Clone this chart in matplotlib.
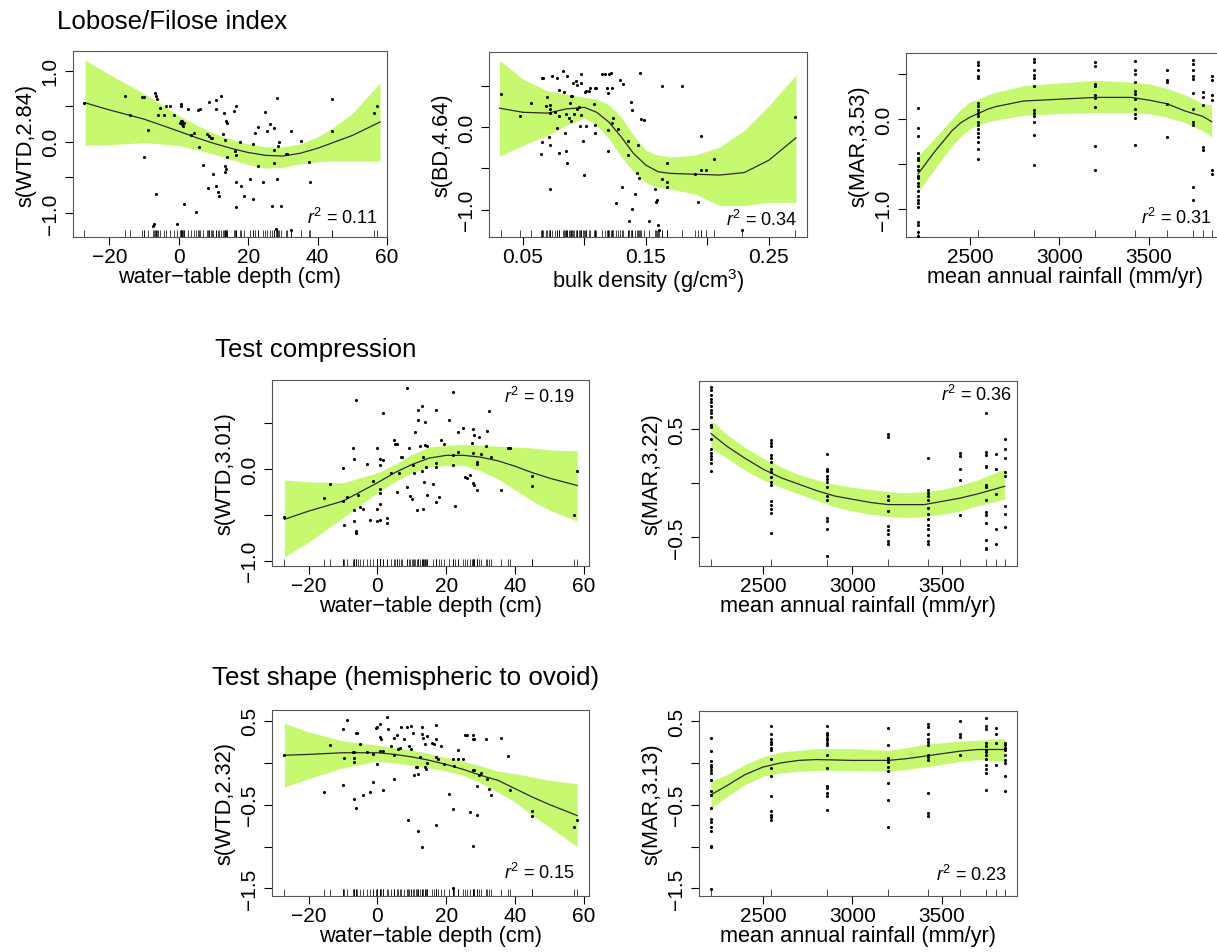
import numpy as np
import matplotlib
matplotlib.use("Agg")
import matplotlib.pyplot as plt

plt.rcParams['font.family'] = ['Liberation Sans', 'DejaVu Sans']
plt.rcParams['mathtext.fontset'] = 'custom'
plt.rcParams['mathtext.rm'] = 'Liberation Sans'
plt.rcParams['mathtext.it'] = 'Liberation Sans:italic'

BAND = '#c6f870'
MAR_LEVELS = [2210, 2545, 2860, 3200, 3420, 3600, 3745, 3800, 3850]

# ---------------- Lobose/Filose index ----------------
lf_wtd_x = [-27.3, -15.5, -14.1, -10.6, -9.9, -10.0, -8.9, -6.9, -6.7, -6.4,
            -6.5, -6.0, -5.3, -7.5, -7.1, -4.3, -3.6, -2.4, -1.4, 0.3,
            0.5, 0.8, 1.0, 1.3, 1.6, 0.5, 0.5, 1.4, -0.5, 2.7,
            3.4, 4.5, 5.0, 5.4, 6.1, 5.9, 7.0, 8.6, 8.8, 8.2,
            8.4, 9.2, 9.6, 9.9, 10.6, 10.7, 10.8, 11.3, 11.5, 12.3,
            12.7, 13.4, 13.4, 13.7, 13.0, 13.6, 14.0, 13.9, 13.4, 16.1,
            16.4, 15.8, 16.4, 16.5, 16.5, 17.5, 17.9, 18.9, 20.4, 21.4,
            21.4, 21.9, 22.8, 22.8, 24.3, 24.8, 25.3, 26.4, 27.3, 26.9,
            27.3, 27.3, 28.3, 28.3, 28.6, 28.8, 29.4, 30.9, 31.3, 32.3,
            35.2, 37.4, 37.9, 44.1, 44.1, 56.3, 57.1, 27.9, 32.4]
lf_wtd_y = [0.55, 0.64, 0.38, 0.63, 0.63, -0.22, 0.17, 0.69, 0.65, 0.61,
            -0.74, 0.38, 0.48, -1.18, -1.15, 0.38, 0.51, 0.50, 0.38, 0.27,
            0.29, 0.25, 0.30, 0.23, 0.27, 0.54, 0.51, -0.87, -1.15, 0.47,
            0.09, 0.13, -0.99, 0.45, 0.46, -0.07, -0.32, 0.56, 0.08, 0.11,
            -0.65, 0.06, 0.06, -0.45, 0.47, 0.59, -0.62, -0.71, -0.76, 0.64,
            0.11, -0.42, -0.34, -0.38, 0.41, 0.30, 0.26, -0.22, 0.03, -0.13,
            -0.18, 0.44, 0.50, -0.57, -0.92, 0.0, -0.62, -0.76, -0.53, -0.03,
            -0.81, 0.12, 0.21, -0.34, -0.57, 0.42, 0.16, 0.25, 0.19, -0.90,
            -0.11, -0.30, 0.62, -0.53, -0.06, 0.0, -0.90, -0.17, -0.17, 0.16,
            0.01, -0.29, -0.57, 0.61, 0.15, 0.40, 0.51, -1.23, -1.24]
wtd_grid = [-27, -20, -10, 0, 5, 10, 15, 20, 25, 30, 35, 40, 45, 50, 58]
lf_wtd_fit = [0.55, 0.45, 0.32, 0.15, 0.06, -0.02, -0.09, -0.15, -0.19, -0.20, -0.16, -0.09, 0.0, 0.09, 0.28]
lf_wtd_hi = [1.15, 0.95, 0.68, 0.37, 0.24, 0.12, 0.04, -0.03, -0.07, -0.07, -0.03, 0.07, 0.22, 0.40, 0.83]
lf_wtd_lo = [-0.05, -0.04, -0.01, -0.05, -0.11, -0.17, -0.25, -0.32, -0.37, -0.36, -0.31, -0.28, -0.27, -0.27, -0.27]

lf_bd_x = [0.0318, 0.0478, 0.0568, 0.0649, 0.0657, 0.0654, 0.0663, 0.0695, 0.069, 0.0717,
           0.0709, 0.0722, 0.072, 0.0722, 0.0717, 0.0736, 0.0757, 0.0776, 0.0776, 0.079,
           0.079, 0.079, 0.0825, 0.083, 0.0839, 0.0847, 0.0852, 0.0858, 0.086, 0.0874,
           0.0885, 0.0893, 0.0898, 0.0893, 0.0906, 0.0928, 0.0942, 0.0915, 0.0939, 0.0955,
           0.0961, 0.0969, 0.0969, 0.0974, 0.0988, 0.0996, 0.1001, 0.1015, 0.1037, 0.1047,
           0.1015, 0.1077, 0.1083, 0.1096, 0.1088, 0.1088, 0.1145, 0.117, 0.1183, 0.1191,
           0.1188, 0.1191, 0.1196, 0.1213, 0.1226, 0.1234, 0.1226, 0.1259, 0.1272, 0.1291,
           0.1313, 0.1308, 0.1354, 0.1354, 0.1362, 0.1381, 0.1386, 0.1386, 0.1408, 0.1430,
           0.1443, 0.1435, 0.1454, 0.1462, 0.1481, 0.1524, 0.157, 0.1584, 0.1592, 0.1598,
           0.1606, 0.1633, 0.1633, 0.1673, 0.1673, 0.1673, 0.1793, 0.1896, 0.1923, 0.1944,
           0.1944, 0.199, 0.205, 0.228, 0.2709]
lf_bd_y = [0.40, 0.13, 0.29, -0.33, -0.18, 0.60, 0.59, 0.37, 0.26, 0.27,
           -0.12, -0.21, -0.75, 0.17, 0.22, 0.62, 0.18, 0.60, -0.01, 0.45,
           0.13, -0.31, 0.68, 0.42, -0.07, 0.16, -0.29, 0.62, -0.44, 0.11,
           0.29, 0.38, 0.38, 0.08, 0.53, 0.56, 0.51, 0.16, 0.22, 0.25,
           0.01, 0.15, 0.64, 0.54, -0.17, -0.58, 0.43, 0.44, 0.44, 0.47,
           0.01, 0.28, 0.48, 0.48, 0.03, -0.07, 0.64, 0.64, 0.47, 0.41,
           -0.03, -0.29, 0.64, 0.66, 0.47, 0.11, 0.05, -0.92, -0.02, 0.57,
           0.52, -0.73, -0.17, -0.34, -1.14, 0.31, 0.21, -0.99, -0.81, -0.56,
           -0.61, -0.21, 0.65, 0.10, 0.09, -1.14, -0.75, -0.91, -0.88, -1.18,
           -1.25, 0.50, -0.63, -0.44, -0.67, -0.72, 0.50, -0.57, -0.91, -0.11,
           -0.52, -0.52, -0.38, -1.25, 0.12]
bd_grid = [0.031, 0.05, 0.07, 0.085, 0.1, 0.11, 0.12, 0.13, 0.14, 0.15, 0.16, 0.17, 0.19, 0.21, 0.23, 0.25, 0.272]
lf_bd_fit = [0.23, 0.18, 0.17, 0.22, 0.24, 0.18, 0.06, -0.12, -0.32, -0.46, -0.54, -0.56, -0.57, -0.58, -0.55, -0.40, -0.13]
lf_bd_hi = [0.81, 0.58, 0.44, 0.40, 0.36, 0.34, 0.27, 0.12, -0.10, -0.28, -0.34, -0.36, -0.34, -0.24, -0.04, 0.26, 0.63]
lf_bd_lo = [-0.35, -0.22, -0.10, 0.02, 0.11, 0.02, -0.14, -0.36, -0.54, -0.67, -0.73, -0.75, -0.81, -0.95, -0.95, -0.91, -0.91]

lf_mar_y = [
    [0.12, -0.10, -0.19, -0.38, -0.43, -0.46, -0.52, -0.57, -0.63, -0.66, -0.71, -0.74, -0.80,
     -0.85, -0.90, -0.93, -0.98, -1.14, -1.18, -1.26, -1.30],
    [0.63, 0.60, 0.54, 0.48, 0.45, 0.18, 0.14, 0.10, 0.07, 0.03, -0.03, -0.07, -0.11, -0.16,
     -0.20, -0.26, -0.33, -0.44],
    [0.67, 0.63, 0.54, 0.49, 0.45, 0.37, 0.10, 0.07, 0.03, -0.03, -0.18, -0.51],
    [0.63, 0.59, 0.39, 0.37, 0.27, 0.23, 0.13, -0.30, -0.57],
    [0.64, 0.54, 0.50, 0.41, 0.31, 0.28, 0.22, 0.11, 0.06, 0.01, -0.29],
    [0.54, 0.43, 0.41, 0.17, -0.20],
    [0.65, 0.61, 0.54, 0.48, 0.44, 0.29, 0.11, -0.03, -0.07, -0.75, -0.90],
    [0.30, 0.25, 0.16, -0.31, -0.34],
    [0.48, 0.43, 0.27, 0.21, -0.57, -0.61],
]
mar_grid = [2210, 2300, 2350, 2400, 2450, 2500, 2545, 2600, 2650, 2800, 3000, 3200, 3400, 3500, 3600, 3700, 3800, 3850]
lf_mar_fit = [-0.61, -0.37, -0.25, -0.13, -0.04, 0.02, 0.06, 0.11, 0.14, 0.20, 0.22, 0.24, 0.24, 0.21, 0.17, 0.09, 0.03, -0.03]
lf_mar_hi = [-0.41, -0.22, -0.11, 0.0, 0.11, 0.19, 0.22, 0.27, 0.30, 0.37, 0.40, 0.43, 0.41, 0.39, 0.34, 0.27, 0.17, 0.16]
lf_mar_lo = [-0.81, -0.56, -0.43, -0.30, -0.19, -0.11, -0.07, -0.03, -0.01, 0.04, 0.06, 0.07, 0.07, 0.06, 0.02, -0.04, -0.13, -0.20]

# ---------------- Test compression ----------------
tc_wtd_x = [-27.2, -15.4, -13.7, -9.9, -10.1, -8.9, -9.8, -7.1, -6.8, -6.8,
            -6.8, -6.3, -6.3, -6.3, -5.7, -5.0, -4.3, -3.1, -2.1, -1.2,
            -0.2, -0.2, -0.2, 0.8, 1.7, 0.8, 0.8, 0.8, 0.8, 0.8,
            1.7, 2.7, 2.9, 3.9, 4.8, 5.1, 5.8, 5.8, 6.4, 6.8,
            7.2, 8.7, 8.5, 9.3, 9.5, 10.0, 10.2, 10.7, 10.9, 11.4,
            11.9, 11.9, 12.4, 12.9, 13.0, 13.1, 13.3, 13.5, 13.8, 13.8,
            14.5, 14.0, 14.3, 16.2, 16.9, 16.9, 16.9, 16.9, 18.0, 18.4,
            19.3, 20.9, 21.8, 22.0, 22.0, 22.5, 23.3, 23.5, 24.9, 25.4,
            25.9, 26.9, 27.3, 27.8, 28.0, 27.8, 27.8, 28.0, 29.0, 29.0,
            29.0, 29.5, 30.0, 31.5, 31.9, 32.5, 32.9, 35.8, 38.0, 38.5,
            44.9, 44.9, 57.0, 58.0]
tc_wtd_y = [-0.52, -0.32, -0.16, 0.01, -0.35, -0.31, -0.61, 0.23, 0.11, -0.45,
            -0.57, 0.76, -0.68, -0.70, -0.28, -0.42, -0.44, 0.06, -0.56, -0.13,
            0.23, -0.44, -0.57, 0.11, 0.10, 0.04, -0.22, -0.26, -0.38, -0.56,
            0.61, -0.53, -0.59, -0.04, 0.32, 0.27, 0.27, -0.25, -0.04, 0.13,
            0.13, 0.89, -0.20, 0.23, -0.29, -0.33, 0.04, -0.04, 0.41, -0.45,
            0.54, 0.65, 0.25, 0.69, -0.02, -0.44, 0.13, -0.14, 0.51, 0.26,
            0.25, 0.02, -0.28, -0.16, 0.65, 0.07, 0.02, -0.36, -0.30, 0.32,
            0.27, 0.54, 0.84, 0.15, 0.04, -0.40, 0.40, 0.19, 0.45, -0.09,
            -0.10, -0.06, 0.29, 0.44, 0.37, 0.18, -0.15, -0.17, 0.08, 0.05,
            -0.23, 0.35, 0.16, 0.25, 0.42, 0.64, 0.13, -0.23, 0.23, 0.23,
            -0.08, -0.18, -0.50, -0.02]
tc_wtd_fit = [-0.55, -0.46, -0.35, -0.15, -0.04, 0.05, 0.12, 0.15, 0.15, 0.13, 0.09, 0.03, -0.04, -0.10, -0.18]
tc_wtd_hi = [-0.12, -0.14, -0.15, -0.04, 0.05, 0.16, 0.24, 0.26, 0.27, 0.26, 0.25, 0.24, 0.23, 0.21, 0.20]
tc_wtd_lo = [-0.96, -0.80, -0.53, -0.26, -0.14, -0.04, 0.02, 0.04, 0.04, -0.02, -0.11, -0.23, -0.35, -0.45, -0.57]

tc_mar_y = [
    [0.89, 0.86, 0.82, 0.78, 0.75, 0.72, 0.68, 0.65, 0.61, 0.54, 0.52, 0.41, 0.32, 0.28, 0.25,
     0.22, 0.19, 0.11],
    [0.40, 0.37, 0.34, 0.26, 0.23, 0.20, 0.13, 0.10, 0.06, 0.01, -0.02, -0.17, -0.20, -0.24,
     -0.28, -0.46],
    [0.27, 0.13, 0.11, 0.07, 0.04, 0.01, -0.04, -0.12, -0.16, -0.32, -0.35, -0.43, -0.68],
    [0.46, 0.43, -0.12, -0.16, -0.26, -0.40, -0.44, -0.47, -0.54, -0.57],
    [0.23, -0.06, -0.09, -0.12, -0.16, -0.23, -0.29, -0.33, -0.39, -0.43, -0.48, -0.54, -0.57],
    [0.28, 0.25, 0.13, 0.03, -0.30],
    [0.65, 0.29, 0.26, 0.16, 0.15, -0.02, -0.04, -0.16, -0.27, -0.30, -0.37, -0.53, -0.60, -0.61],
    [0.27, 0.13, -0.10, -0.43, -0.57],
    [0.41, 0.32, 0.23, 0.10, 0.07, -0.21, -0.29, -0.41],
]
mar_grid2 = [2210, 2300, 2400, 2500, 2600, 2700, 2800, 2900, 3000, 3100, 3200, 3300, 3400, 3500, 3600, 3700, 3850]
tc_mar_fit = [0.46, 0.34, 0.23, 0.13, 0.05, -0.01, -0.07, -0.12, -0.15, -0.18, -0.20, -0.20, -0.20, -0.17, -0.14, -0.10, -0.03]
tc_mar_hi = [0.58, 0.45, 0.33, 0.23, 0.15, 0.08, 0.03, -0.01, -0.04, -0.06, -0.08, -0.09, -0.08, -0.06, -0.02, 0.03, 0.13]
tc_mar_lo = [0.33, 0.23, 0.12, 0.03, -0.04, -0.10, -0.16, -0.22, -0.26, -0.29, -0.31, -0.32, -0.31, -0.29, -0.26, -0.21, -0.15]

# ---------------- Test shape ----------------
ts_wtd_x = [-27.2, -13.7, -15.4, -10.1, -9.9, -9.7, -8.7, -7.2, -6.7, -6.8,
            -6.8, -6.8, -6.3, -5.8, -6.3, -5.2, -4.3, -3.1, -2.1, -1.4,
            -1.2, -0.4, 0.0, -0.2, 0.8, 0.8, 1.0, 0.8, 1.5, 1.7,
            2.7, 3.0, 3.9, 4.8, 4.8, 4.8, 5.8, 6.1, 6.6, 6.8,
            7.8, 8.5, 9.8, 8.8, 9.3, 9.7, 10.2, 10.6, 11.2, 11.6,
            11.7, 11.9, 12.4, 12.9, 13.0, 12.9, 13.3, 13.8, 13.8, 14.1,
            14.3, 14.5, 15.9, 16.4, 16.9, 16.9, 16.9, 16.9, 17.7, 18.4,
            19.4, 20.9, 21.8, 22.0, 22.3, 23.3, 23.5, 24.9, 25.4, 26.1,
            26.9, 27.6, 28.0, 27.8, 27.8, 27.8, 28.1, 28.8, 29.0, 29.5,
            30.0, 31.5, 31.9, 32.5, 32.9, 35.8, 38.0, 38.5, 44.9, 44.9,
            57.0, 58.0, 22.0]
ts_wtd_y = [0.09, 0.21, -0.35, -0.27, 0.40, 0.06, 0.51, 0.13, 0.13, 0.06,
            0.01, -0.43, 0.35, 0.35, -0.54, 0.23, -0.38, 0.13, -0.35, -0.23,
            0.10, 0.41, 0.43, -0.02, 0.46, 0.31, 0.28, 0.14, 0.14, -0.33,
            0.55, 0.40, 0.20, 0.30, 0.09, -0.19, 0.33, 0.17, 0.18, 0.43,
            0.28, 0.43, 0.44, -0.68, 0.20, 0.17, 0.35, -0.15, -0.05, -0.05,
            -0.13, -0.81, 0.07, 0.43, 0.34, -1.00, 0.29, 0.23, -0.05, -0.08,
            0.32, 0.0, 0.24, 0.23, 0.45, 0.28, 0.07, -0.74, 0.04, 0.20,
            -0.01, -0.37, 0.04, -0.55, -0.04, 0.15, 0.04, 0.04, 0.33, 0.33,
            -0.59, -0.09, -0.09, 0.33, 0.28, -0.99, 0.28, -0.28, -0.62, -0.15,
            -0.12, 0.28, -0.19, -0.31, -0.39, 0.29, 0.08, -0.33, -0.58, -0.63,
            -0.77, -0.68, -1.50]
ts_wtd_fit = [0.09, 0.10, 0.12, 0.12, 0.10, 0.07, 0.03, -0.02, -0.08, -0.15, -0.21, -0.31, -0.41, -0.50, -0.63]
ts_wtd_hi = [0.47, 0.37, 0.26, 0.21, 0.18, 0.15, 0.11, 0.06, 0.02, -0.04, -0.10, -0.13, -0.17, -0.21, -0.25]
ts_wtd_lo = [-0.29, -0.19, -0.06, 0.02, 0.0, -0.03, -0.06, -0.10, -0.15, -0.24, -0.35, -0.47, -0.63, -0.77, -1.00]

ts_mar_y = [
    [0.30, 0.14, 0.02, -0.02, -0.05, -0.08, -0.12, -0.20, -0.34, -0.38, -0.54, -0.67, -0.71,
     -0.77, -0.81, -0.99, -1.01, -1.51],
    [0.44, 0.35, 0.28, 0.25, 0.22, 0.18, 0.15, 0.05, -0.06, -0.16, -0.40, -0.58, -0.62, -0.65, -0.68],
    [0.44, 0.36, 0.33, 0.30, 0.27, 0.24, 0.21, 0.10, -0.06, -0.27, -0.30, -0.36, -0.39, -0.56],
    [0.42, 0.21, 0.06, 0.03, 0.01, -0.05, -0.10, -0.24, -0.44, -0.77],
    [0.46, 0.43, 0.34, 0.28, 0.25, 0.21, 0.10, 0.07, 0.04, -0.36, -0.60, -0.64],
    [0.50, 0.34, 0.31, 0.09],
    [0.54, 0.44, 0.40, 0.24, 0.20, 0.16, 0.13, 0.09, 0.05, -0.02, -0.07, -0.12, -0.32],
    [0.42, 0.34, 0.24, -0.03],
    [0.24, 0.21, 0.18, 0.15, 0.09, 0.04, 0.00, -0.16, -0.34],
]
mar_grid3 = [2210, 2300, 2400, 2500, 2600, 2700, 2800, 3000, 3200, 3300, 3400, 3500, 3600, 3700, 3850]
ts_mar_fit = [-0.38, -0.27, -0.14, -0.05, 0.0, 0.03, 0.04, 0.03, 0.03, 0.05, 0.08, 0.11, 0.14, 0.16, 0.16]
ts_mar_hi = [-0.22, -0.14, -0.02, 0.07, 0.13, 0.15, 0.17, 0.17, 0.15, 0.18, 0.22, 0.24, 0.26, 0.27, 0.29]
ts_mar_lo = [-0.54, -0.40, -0.26, -0.16, -0.12, -0.10, -0.09, -0.09, -0.10, -0.08, -0.05, -0.02, 0.02, 0.04, 0.02]

W, H = 1217, 953


def expand(levels, groups):
    xs, ys = [], []
    for lv, g in zip(levels, groups):
        xs += [lv] * len(g)
        ys += g
    return xs, ys


def panel(box, xs, ys, fx, fit, lo, hi, rug, xlim, ylim, xticks, xtl, yticks, ytl,
          xlabel, ylabel, r2, r2pos):
    x0, y0, x1, y1 = box
    wpx, hpx = x1 - x0, y1 - y0
    ax = fig.add_axes([x0 / W, 1 - y1 / H, wpx / W, hpx / H])
    ax.fill_between(fx, lo, hi, color=BAND, lw=0, zorder=1)
    ax.plot(fx, fit, color='#2a2a2a', lw=0.9, zorder=2)
    ax.scatter(xs, ys, s=5, c='k', lw=0, zorder=3)
    ax.vlines(rug, 0, 0.036, transform=ax.get_xaxis_transform(), color='k', lw=0.5, zorder=3)
    ax.set_xlim(xlim)
    ax.set_ylim(ylim)
    ax.set_xticks(xticks)
    ax.set_xticklabels(xtl)
    ax.set_yticks(yticks)
    ax.set_yticklabels(ytl, rotation=90, va='center')
    ax.tick_params(direction='out', length=6, width=0.8, labelsize=15, color='k')
    ax.tick_params(axis='x', pad=1.5)
    ax.tick_params(axis='y', pad=3.5)
    for s in ax.spines.values():
        s.set_color('#555555')
        s.set_linewidth(0.8)
    ax.set_xlabel(xlabel, fontsize=15.7)
    ax.set_ylabel(ylabel, fontsize=15.7)
    ax.xaxis.set_label_coords(0.5, -29 / hpx)
    ax.yaxis.set_label_coords(-37 / wpx, 0.5)
    ax.text(r2pos[0], r2pos[1], r2, transform=ax.transAxes, ha='right', va='center', fontsize=13)
    return ax


fig = plt.figure(figsize=(W / 100, H / 100), dpi=100)

wtd_ticks = [-20, 0, 20, 40, 60]
wtd_tl = ['\u221220', '0', '20', '40', '60']
mar_ticks = [2500, 3000, 3500]
mar_tl = ['2500', '3000', '3500']
MAR_XLIM = (2143, 3919)
M = '\u2212'

# row 1
panel((73, 52, 387, 238), lf_wtd_x, lf_wtd_y, wtd_grid, lf_wtd_fit, lf_wtd_lo, lf_wtd_hi, lf_wtd_x,
      (-30.5, 59.8), (-1.34, 1.28), wtd_ticks, wtd_tl,
      [-1.0, -0.5, 0.0, 0.5, 1.0], [M + '1.0', '', '0.0', '', '1.0'],
      'water\u2212table depth (cm)', 's(WTD,2.84)', r'$r^2$ = 0.11', (0.971, 0.108))

panel((489, 53, 807, 238), lf_bd_x, lf_bd_y, bd_grid, lf_bd_fit, lf_bd_lo, lf_bd_hi, lf_bd_x,
      (0.0224, 0.281), (-1.33, 0.91), [0.05, 0.10, 0.15, 0.20, 0.25], ['0.05', '', '0.15', '', '0.25'],
      [-1.0, -0.5, 0.0, 0.5], [M + '1.0', '', '0.0', ''],
      'bulk density (g/cm$^3$)', 's(BD,4.64)', r'$r^2$ = 0.34', (0.969, 0.097))

mx, my = expand(MAR_LEVELS, lf_mar_y)
panel((906, 54, 1224, 238), mx, my, mar_grid, lf_mar_fit, lf_mar_lo, lf_mar_hi, MAR_LEVELS,
      MAR_XLIM, (-1.31, 0.733), mar_ticks, mar_tl,
      [-1.0, -0.5, 0.0, 0.5], [M + '1.0', '', '0.0', ''],
      'mean annual rainfall (mm/yr)', 's(MAR,3.53)', r'$r^2$ = 0.31', (0.962, 0.109))

# row 2
panel((272, 381, 589, 567), tc_wtd_x, tc_wtd_y, wtd_grid, tc_wtd_fit, tc_wtd_lo, tc_wtd_hi, tc_wtd_x,
      (-30.6, 61.4), (-1.06, 0.974), wtd_ticks, wtd_tl,
      [-1.0, -0.5, 0.0, 0.5], [M + '1.0', '', '0.0', ''],
      'water\u2212table depth (cm)', 's(WTD,3.01)', r'$r^2$ = 0.19', (0.956, 0.914))

mx, my = expand(MAR_LEVELS, tc_mar_y)
panel((699, 382, 1017, 567), mx, my, mar_grid2, tc_mar_fit, tc_mar_lo, tc_mar_hi, MAR_LEVELS,
      MAR_XLIM, (-0.77, 0.948), mar_ticks, mar_tl,
      [-0.5, 0.0, 0.5], [M + '0.5', '', '0.5'],
      'mean annual rainfall (mm/yr)', 's(MAR,3.22)', r'$r^2$ = 0.36', (0.985, 0.928))

# row 3
panel((272, 711, 589, 897), ts_wtd_x, ts_wtd_y, wtd_grid, ts_wtd_fit, ts_wtd_lo, ts_wtd_hi, ts_wtd_x,
      (-30.6, 61.4), (-1.59, 0.63), wtd_ticks, wtd_tl,
      [-1.5, -1.0, -0.5, 0.0, 0.5], [M + '1.5', '', M + '0.5', '', '0.5'],
      'water\u2212table depth (cm)', 's(WTD,2.32)', r'$r^2$ = 0.15', (0.956, 0.127))

mx, my = expand(MAR_LEVELS, ts_mar_y)
panel((699, 712, 1017, 897), mx, my, mar_grid3, ts_mar_fit, ts_mar_lo, ts_mar_hi, MAR_LEVELS,
      MAR_XLIM, (-1.59, 0.62), mar_ticks, mar_tl,
      [-1.5, -1.0, -0.5, 0.0, 0.5], [M + '1.5', '', M + '0.5', '', '0.5'],
      'mean annual rainfall (mm/yr)', 's(MAR,3.13)', r'$r^2$ = 0.23', (0.969, 0.117))

fig.text(57 / W, 1 - 22 / H, 'Lobose/Filose index', ha='left', va='center', fontsize=18.6)
fig.text(215 / W, 1 - 350 / H, 'Test compression', ha='left', va='center', fontsize=18.6)
fig.text(212 / W, 1 - 678 / H, 'Test shape (hemispheric to ovoid)', ha='left', va='center', fontsize=18.6)

fig.savefig('out.png', dpi=100)
